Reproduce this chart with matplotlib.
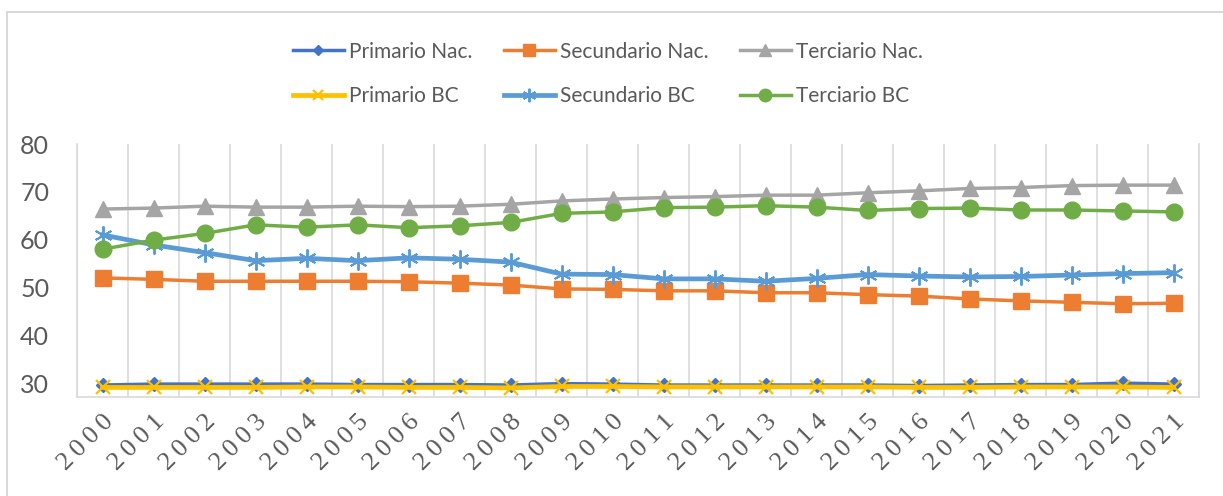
import numpy as np
import matplotlib.pyplot as plt
from matplotlib.lines import Line2D

years = [str(y) for y in range(2000, 2022)]

primario_nac = [29.6, 29.8, 29.8, 29.8, 29.8, 29.7, 29.7, 29.7, 29.6, 29.9, 29.8,
                29.6, 29.6, 29.6, 29.6, 29.6, 29.5, 29.6, 29.7, 29.7, 30.0, 29.8]
secundario_nac = [52.0, 51.7, 51.3, 51.3, 51.3, 51.3, 51.2, 50.9, 50.5, 49.7, 49.6,
                  49.3, 49.3, 48.9, 48.9, 48.5, 48.2, 47.6, 47.2, 46.9, 46.6, 46.7]
terciario_nac = [66.4, 66.6, 67.0, 66.8, 66.8, 67.0, 66.9, 67.0, 67.4, 68.1, 68.5,
                 68.8, 69.0, 69.3, 69.3, 69.8, 70.2, 70.7, 70.9, 71.3, 71.4, 71.4]
primario_bc = [29.1, 29.1, 29.1, 29.1, 29.2, 29.2, 29.1, 29.1, 29.0, 29.3, 29.3,
               29.2, 29.2, 29.2, 29.2, 29.2, 29.1, 29.1, 29.2, 29.2, 29.2, 29.1]
secundario_bc = [61.0, 58.9, 57.3, 55.6, 56.1, 55.6, 56.2, 55.9, 55.3, 52.8, 52.7,
                 51.8, 51.8, 51.3, 51.9, 52.7, 52.4, 52.2, 52.3, 52.6, 52.9, 53.1]
terciario_bc = [58.0, 59.9, 61.3, 63.1, 62.6, 63.1, 62.5, 62.9, 63.6, 65.5, 65.8,
                66.7, 66.8, 67.1, 66.8, 66.1, 66.5, 66.6, 66.2, 66.2, 66.0, 65.8]

fig = plt.figure(figsize=(12.23, 4.96), dpi=100)
ax = fig.add_axes([77 / 1223, 1 - 397 / 496, (1199 - 77) / 1223, (397 - 144) / 496])

x = np.arange(len(years))
star = (6, 2, 0)
h_pn, = ax.plot(x, primario_nac, color='#4472C4', lw=2.5, marker='D', ms=7, label='Primario Nac.')
h_sn, = ax.plot(x, secundario_nac, color='#ED7D31', lw=2.5, marker='s', ms=12, label='Secundario Nac.')
h_tn, = ax.plot(x, terciario_nac, color='#A5A5A5', lw=2.5, marker='^', ms=12, label='Terciario Nac.')
h_pb, = ax.plot(x, primario_bc, color='#FFC000', lw=3.4, marker='x', ms=10, mew=1.6, label='Primario BC')
h_sb, = ax.plot(x, secundario_bc, color='#5B9BD5', lw=3.4, marker=star, ms=13, mew=1.4, label='Secundario BC')
h_tb, = ax.plot(x, terciario_bc, color='#70AD47', lw=2.5, marker='o', ms=12, label='Terciario BC')

ax.set_xlim(-0.5, len(years) - 0.5)
ax.set_ylim(27.1, 80)
ax.set_yticks([30, 40, 50, 60, 70, 80])
ax.set_xticks(x)
ax.set_xticklabels(['\u2009'.join(y) for y in years], rotation=45, ha='right', va='top',
                   rotation_mode='anchor', family='Liberation Serif', fontsize=19, color='#595959')
for lab in ax.get_yticklabels():
    lab.set_family('Lato')
    lab.set_fontsize(18)
    lab.set_color('#595959')
ax.set_xticks(np.arange(-0.5, len(years), 1), minor=True)
ax.grid(True, which='minor', axis='x', color='#d9d9d9', lw=1.2)
ax.tick_params(axis='both', which='both', length=0)
ax.tick_params(axis='y', pad=20)
ax.tick_params(axis='x', pad=10)
ax.spines['top'].set_visible(False)
for side in ['left', 'right', 'bottom']:
    ax.spines[side].set_color('#d9d9d9')
    ax.spines[side].set_linewidth(1.2)

handles = [h_pn, h_pb, h_sn, h_sb, h_tn, h_tb]
fig.legend(handles=handles, labels=[h.get_label() for h in handles], ncol=3,
           loc='center', bbox_to_anchor=(0.497, 1 - 74 / 496), frameon=False,
           prop={'family': 'Lato', 'size': 15}, labelcolor='#595959',
           handlelength=2.45, handletextpad=0.25, columnspacing=1.5, labelspacing=1.2,
           markerscale=0.75)

fig.add_artist(Line2D([7 / 1223, 1], [1 - 12 / 496, 1 - 12 / 496], color='#d9d9d9', lw=1.5))
fig.add_artist(Line2D([7 / 1223, 7 / 1223], [0, 1 - 12 / 496], color='#d9d9d9', lw=1.5))

fig.savefig('out.png', dpi=100)
